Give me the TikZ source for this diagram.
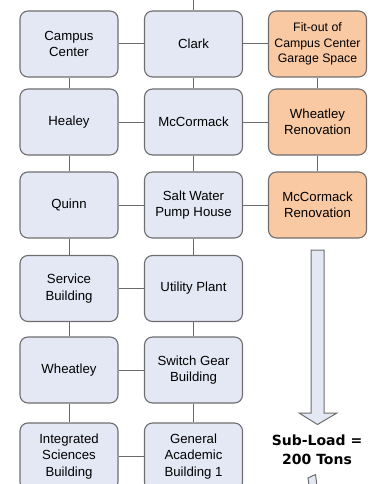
\documentclass[tikz,border=0pt]{standalone}
\usepackage{fontspec}
\setmainfont{Liberation Sans}
\newfontfamily\boldfont{DejaVu Sans}
\definecolor{boxfill}{HTML}{E4E8F5}
\definecolor{boxline}{HTML}{6E6E6E}
\definecolor{orfill}{HTML}{F9C9A3}
\definecolor{linec}{HTML}{6A6A6A}
\begin{document}
\begin{tikzpicture}[x=1pt,y=-1pt,
  bbox/.style={draw=boxline,line width=1.1pt,fill=boxfill,rounded corners=8pt,
    minimum width=98pt,minimum height=66pt,align=center,inner sep=2pt,
    font=\fontsize{13.2}{16.5}\selectfont},
  obox/.style={bbox,fill=orfill},
  conn/.style={draw=linec,line width=1pt}]
\useasboundingbox (0,0) rectangle (377,484);
\clip (0,0) rectangle (377,484);
% column centres: 69, 193.5, 317.5
\node[bbox] (cc) at (69,44) {Campus\\Center};
\node[bbox] (cl) at (193.5,44) {Clark};
\node[obox,font=\fontsize{12.3}{15.5}\selectfont] (fo) at (317.5,44) {Fit-out of\\Campus Center\\Garage Space};
\node[bbox] (he) at (69,122) {Healey};
\node[bbox] (mc) at (193.5,122) {McCormack};
\node[obox] (wr) at (317.5,122) {Wheatley\\Renovation};
\node[bbox] (qu) at (69,205) {Quinn};
\node[bbox] (sw) at (193.5,205) {Salt Water\\Pump House};
\node[obox] (mr) at (317.5,205) {McCormack\\Renovation};
\node[bbox] (sb) at (69,288.5) {Service\\Building};
\node[bbox] (up) at (193.5,288.5) {Utility Plant};
\node[bbox] (wh) at (69,370) {Wheatley};
\node[bbox] (sg) at (193.5,370) {Switch Gear\\Building};
\node[bbox,minimum height=67pt] (is) at (69,456.5) {Integrated\\Sciences\\Building};
\node[bbox,minimum height=67pt] (ga) at (193.5,456.5) {General\\Academic\\Building 1};
\coordinate (top) at (193.5,0);
% connectors
\draw[conn] (top) -- (cl);
\foreach \a/\b in {cc/cl,cl/fo,he/mc,mc/wr,qu/sw,sw/mr,sb/up,wh/sg,is/ga,
  cc/he,he/qu,qu/sb,sb/wh,wh/is,cl/mc,mc/sw,sw/up,up/sg,sg/ga,fo/wr,wr/mr}
  \draw[conn] (\a) -- (\b);
% redraw boxes on top of connectors
\foreach \n in {cc,cl,he,mc,qu,sw,sb,up,wh,sg,is,ga}{}
% arrow
\draw[draw=boxline,line width=1pt,fill=boxfill,line join=miter]
  (311,250) -- (324,250) -- (324,413) -- (337,413) -- (317.5,424.5) -- (299,413) -- (311,413) -- cycle;
\node[font=\boldfont\bfseries\fontsize{14}{19}\selectfont,align=center] (sl) at (317,450) {Sub-Load =\\200 Tons};
\draw[draw=boxline,line width=1pt,fill=boxfill] (308,478) -- (315.5,474.5) -- (317,486) -- (309.5,489) -- cycle;
\end{tikzpicture}
\end{document}
